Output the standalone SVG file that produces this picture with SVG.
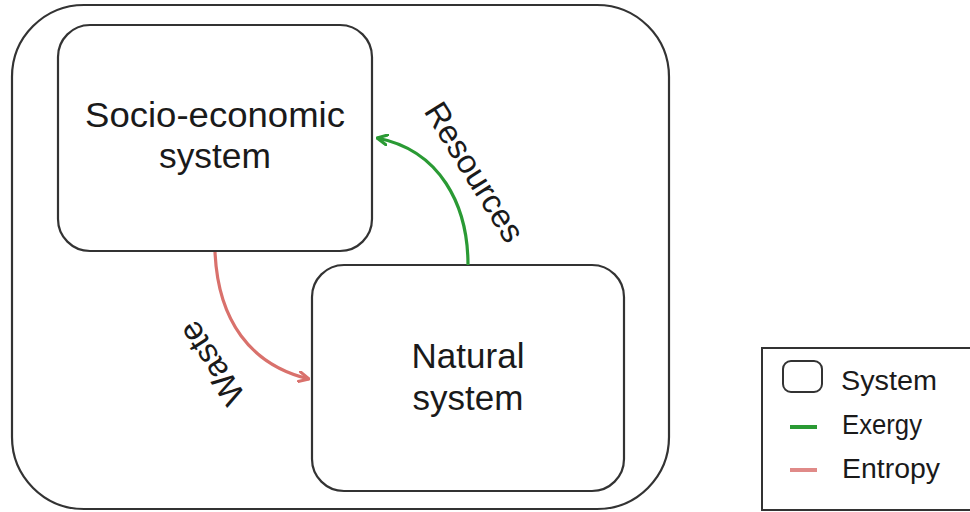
<svg xmlns="http://www.w3.org/2000/svg" width="970" height="512" viewBox="0 0 970 512">
<style>
.box{fill:#fff;stroke:#333;stroke-width:2.2}
.t{font-family:"Liberation Sans",Arial,sans-serif;fill:#1a1a1a}
.big{font-size:35px;text-anchor:middle}
.lbl{font-size:33px;text-anchor:middle}
.leg{font-size:27px}
.green{stroke:#2a9a34;fill:none;stroke-width:3.2}
.red{stroke:#d9716c;fill:none;stroke-width:3.2}
</style>
<defs>
<marker id="ag" viewBox="0 0 12 12" refX="11" refY="6" markerWidth="12" markerHeight="12" markerUnits="userSpaceOnUse" orient="auto">
<path d="M1,1 L11,6 L1,11" fill="none" stroke="#2a9a34" stroke-width="3" stroke-linecap="round" stroke-linejoin="round"/>
</marker>
<marker id="ar" viewBox="0 0 12 12" refX="11" refY="6" markerWidth="12" markerHeight="12" markerUnits="userSpaceOnUse" orient="auto">
<path d="M1,1 L11,6 L1,11" fill="none" stroke="#d9716c" stroke-width="3" stroke-linecap="round" stroke-linejoin="round"/>
</marker>
</defs>
<rect width="970" height="512" fill="#fff"/>
<g id="outer-system">
<rect class="box" x="12" y="5" width="657" height="504" rx="72"/>
</g>
<g id="socio-economic-system">
<rect class="box" x="58" y="25" width="314" height="226" rx="32"/>
<text class="t big" x="215" y="127" textLength="260" lengthAdjust="spacingAndGlyphs">Socio-economic</text>
<text class="t big" x="215" y="168" textLength="112" lengthAdjust="spacingAndGlyphs">system</text>
</g>
<g id="natural-system">
<rect class="box" x="312" y="265" width="312" height="226" rx="32"/>
<text class="t big" x="468" y="368">Natural</text>
<text class="t big" x="468" y="410">system</text>
</g>
<g id="connectors">
<path class="green" d="M468,265 C468,205 440,150 377,138" marker-end="url(#ag)"/>
<path class="red" d="M215,252 C218,320 250,365 309,379" marker-end="url(#ar)"/>
<text class="t lbl" transform="translate(465,178) rotate(58)" x="0" y="0">Resources</text>
<text class="t lbl" transform="translate(221,357) rotate(-123)" x="0" y="0">Waste</text>
</g>
<g id="legend">
<rect x="762" y="348" width="220" height="162" fill="#fff" stroke="#333" stroke-width="2"/>
<rect x="783" y="361" width="39" height="31" rx="8" fill="#fff" stroke="#333" stroke-width="2"/>
<text class="t leg" x="841" y="390" textLength="96" lengthAdjust="spacingAndGlyphs">System</text>
<line x1="790" y1="427" x2="817" y2="427" stroke="#2a9a34" stroke-width="4"/>
<text class="t leg" x="842" y="434" textLength="80" lengthAdjust="spacingAndGlyphs">Exergy</text>
<line x1="790" y1="470" x2="817" y2="470" stroke="#e08a88" stroke-width="4"/>
<text class="t leg" x="842" y="478" textLength="98" lengthAdjust="spacingAndGlyphs">Entropy</text>
</g>
</svg>
